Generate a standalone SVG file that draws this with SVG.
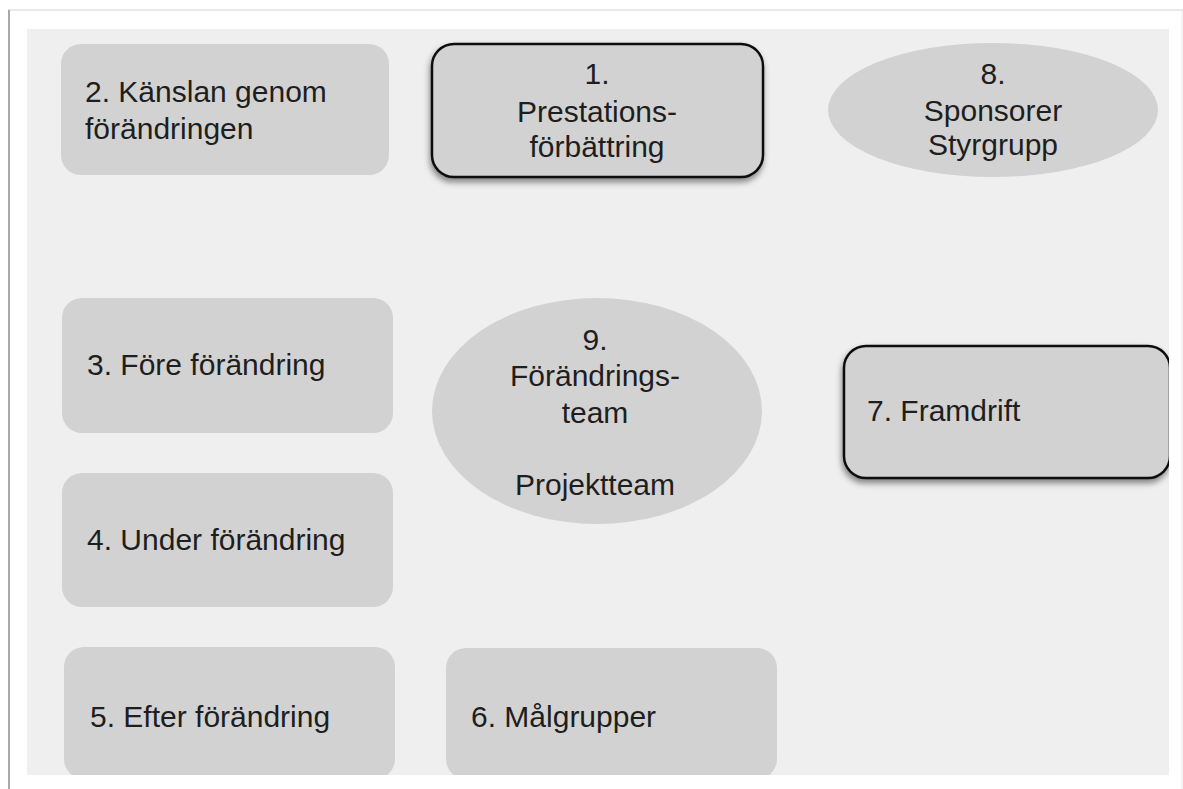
<svg xmlns="http://www.w3.org/2000/svg" width="1183" height="789" viewBox="0 0 1183 789">
  <style>
    .lbl { font-family: "Liberation Sans", Arial, sans-serif; font-size: 30px; fill: #1e1e1e; }
    .mid { text-anchor: middle; }
    .box { fill: #d3d2d3; }
    .boxed { fill: #d3d2d3; stroke: #111; stroke-width: 2.5; }
    .oval { fill: #d3d2d3; }
  </style>
  <defs>
    <clipPath id="panelClip">
      <rect x="27" y="29" width="1142" height="746"/>
    </clipPath>
    <filter id="shadow" x="-10%" y="-10%" width="120%" height="130%">
      <feDropShadow dx="-1" dy="4" stdDeviation="3" flood-color="#000" flood-opacity="0.45"/>
    </filter>
  </defs>

  <!-- page and frame -->
  <rect x="0" y="0" width="1183" height="789" fill="#ffffff"/>
  <line x1="8" y1="10" x2="1183" y2="10" stroke="#e2e2e2" stroke-width="1.5"/>
  <line x1="9" y1="10" x2="9" y2="789" stroke="#a9a9a9" stroke-width="2"/>
  <line x1="1182" y1="10" x2="1182" y2="789" stroke="#ececec" stroke-width="1"/>

  <!-- background panel -->
  <rect x="27" y="29" width="1142" height="746" fill="#efefef"/>

  <g clip-path="url(#panelClip)">
    <g id="node2">
      <rect class="box" x="61" y="44" width="328" height="131" rx="20"/>
      <text class="lbl" x="85" y="102">2. Känslan genom</text>
      <text class="lbl" x="85" y="139">förändringen</text>
    </g>

    <g id="node1">
      <rect class="boxed" x="432" y="44" width="331" height="133" rx="22" filter="url(#shadow)"/>
      <text class="lbl mid" x="597" y="84">1.</text>
      <text class="lbl mid" x="597" y="122">Prestations-</text>
      <text class="lbl mid" x="597" y="157">förbättring</text>
    </g>

    <g id="node8">
      <ellipse class="oval" cx="993" cy="110" rx="165" ry="67"/>
      <text class="lbl mid" x="993" y="84">8.</text>
      <text class="lbl mid" x="993" y="121">Sponsorer</text>
      <text class="lbl mid" x="993" y="155">Styrgrupp</text>
    </g>

    <g id="node3">
      <rect class="box" x="62" y="298" width="331" height="135" rx="20"/>
      <text class="lbl" x="87" y="375">3. Före förändring</text>
    </g>

    <g id="node9">
      <ellipse class="oval" cx="597" cy="411" rx="165" ry="113"/>
      <text class="lbl mid" x="595" y="350">9.</text>
      <text class="lbl mid" x="595" y="386">Förändrings-</text>
      <text class="lbl mid" x="595" y="423">team</text>
      <text class="lbl mid" x="595" y="495">Projektteam</text>
    </g>

    <g id="node7">
      <rect class="boxed" x="844" y="346" width="326" height="132" rx="22" filter="url(#shadow)"/>
      <text class="lbl" x="867" y="421">7. Framdrift</text>
    </g>

    <g id="node4">
      <rect class="box" x="62" y="473" width="331" height="134" rx="20"/>
      <text class="lbl" x="87" y="550">4. Under förändring</text>
    </g>

    <g id="node5">
      <rect class="box" x="64" y="647" width="331" height="132" rx="20"/>
      <text class="lbl" x="90" y="727">5. Efter förändring</text>
    </g>

    <g id="node6">
      <rect class="box" x="446" y="648" width="331" height="131" rx="20"/>
      <text class="lbl" x="471" y="727">6. Målgrupper</text>
    </g>
  </g>

  <!-- no connectors in this layout -->
  <g id="connectors"/>
</svg>
